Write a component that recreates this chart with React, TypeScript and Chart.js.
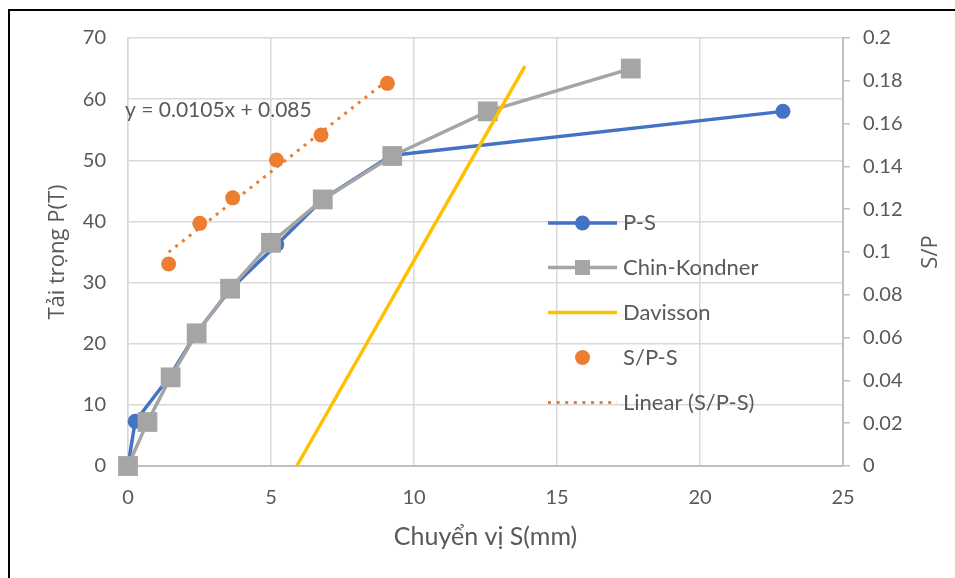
import React, { useEffect, useRef } from "react";
import { Chart, registerables } from "chart.js";

Chart.register(...registerables);

// P-S curve
const psX = [0, 0.25, 1.45, 2.4, 3.6, 5.2, 6.8, 9.2, 22.9];
const psY = [0, 7.3, 14.6, 21.8, 29.0, 36.2, 43.6, 50.8, 58.0];
// Chin-Kondner
const ckX = [0, 0.68, 1.49, 2.4, 3.57, 5.0, 6.81, 9.24, 12.58, 17.58];
const ckY = [0, 7.2, 14.5, 21.7, 29.0, 36.5, 43.6, 50.7, 58.0, 65.0];
// Davisson
const davX = [5.9, 13.88];
const davY = [0, 65.4];
// S/P - S (right axis)
const spX = [1.42, 2.51, 3.66, 5.19, 6.75, 9.07];
const spY = [0.0944, 0.1134, 0.1253, 0.143, 0.1547, 0.1788];
// Linear trendline y = 0.0105x + 0.085
const trendSlope = 0.0105;
const trendIntercept = 0.085;
const trendX = [spX[0], spX[spX.length - 1]];

const xTicks = [0, 5, 10, 15, 20, 25];
const yTicks = [0, 10, 20, 30, 40, 50, 60, 70];
const y1Ticks = [0, 0.02, 0.04, 0.06, 0.08, 0.1, 0.12, 0.14, 0.16, 0.18, 0.2];

const legendLabels = ["P-S", "Chin-Kondner", "Davisson", "S/P-S", "Linear (S/P-S)"];

const BLUE = "#4472C4";
const GRAY = "#A5A5A5";
const YELLOW = "#FFC000";
const ORANGE = "#ED7D31";
const TEXT = "#595959";
const GRID = "#D9D9D9";
const AXIS = "#BFBFBF";
const TICK_FONT = "Lato";
const TITLE_FONT = "'Open Sans'";

const pts = (xs: number[], ys: number[]) => xs.map((x, i) => ({ x, y: ys[i] }));

const overlayPlugin = {
  id: "overlay",
  afterDraw(chart: any) {
    const ctx = chart.ctx;
    ctx.save();
    // Equation label
    ctx.fillStyle = TEXT;
    ctx.font = `21px ${TICK_FONT}`;
    ctx.textAlign = "left";
    ctx.textBaseline = "middle";
    ctx.fillText(`y = ${trendSlope}x + ${trendIntercept}`, 125, 110);

    // Right axis title
    ctx.save();
    ctx.translate(931, 252);
    ctx.rotate(-Math.PI / 2);
    ctx.font = `22px ${TITLE_FONT}`;
    ctx.textAlign = "center";
    ctx.textBaseline = "middle";
    ctx.fillStyle = TEXT;
    ctx.fillText("S/P", 0, 0);
    ctx.restore();

    // Legend
    const rows = [223, 267.5, 312.5, 357.5, 402.5];
    const x0 = 548, x1 = 617, xm = 582.5, xt = 623;
    ctx.lineCap = "butt";
    // P-S
    ctx.strokeStyle = BLUE; ctx.lineWidth = 3.5;
    ctx.beginPath(); ctx.moveTo(x0, rows[0]); ctx.lineTo(x1, rows[0]); ctx.stroke();
    ctx.fillStyle = BLUE; ctx.beginPath(); ctx.arc(xm, rows[0], 7.5, 0, Math.PI * 2); ctx.fill();
    // Chin
    ctx.strokeStyle = GRAY;
    ctx.beginPath(); ctx.moveTo(x0, rows[1]); ctx.lineTo(x1, rows[1]); ctx.stroke();
    ctx.fillStyle = GRAY; ctx.fillRect(xm - 7.5, rows[1] - 7.5, 15, 15);
    // Davisson
    ctx.strokeStyle = YELLOW;
    ctx.beginPath(); ctx.moveTo(x0, rows[2]); ctx.lineTo(x1, rows[2]); ctx.stroke();
    // S/P-S
    ctx.fillStyle = ORANGE; ctx.beginPath(); ctx.arc(xm, rows[3], 7.5, 0, Math.PI * 2); ctx.fill();
    // Linear
    ctx.strokeStyle = ORANGE; ctx.lineWidth = 3; ctx.setLineDash([3, 5.6]);
    ctx.beginPath(); ctx.moveTo(x0, rows[4]); ctx.lineTo(x1, rows[4]); ctx.stroke();
    ctx.setLineDash([]);

    ctx.fillStyle = TEXT;
    ctx.font = `22px ${TICK_FONT}`;
    ctx.textAlign = "left";
    ctx.textBaseline = "middle";
    legendLabels.forEach((l, i) => ctx.fillText(l, xt, rows[i]));
    ctx.restore();
  },
};

export default function App() {
  const ref = useRef<HTMLCanvasElement | null>(null);
  useEffect(() => {
    if (!ref.current) return;
    const chart = new Chart(ref.current, {
      type: "scatter",
      data: {
        datasets: [
          {
            label: legendLabels[0],
            data: pts(psX, psY),
            showLine: true,
            borderColor: BLUE,
            backgroundColor: BLUE,
            borderWidth: 3.5,
            pointRadius: 7.5,
            pointBorderWidth: 0,
            pointStyle: "circle",
            yAxisID: "y",
            order: 5,
            clip: false,
          },
          {
            label: legendLabels[1],
            data: pts(ckX, ckY),
            showLine: true,
            borderColor: GRAY,
            backgroundColor: GRAY,
            borderWidth: 3.5,
            pointRadius: 14,
            pointBorderWidth: 0,
            pointStyle: "rect",
            yAxisID: "y",
            order: 4,
            clip: false,
          },
          {
            label: legendLabels[2],
            data: pts(davX, davY),
            showLine: true,
            borderColor: YELLOW,
            backgroundColor: YELLOW,
            borderWidth: 3.5,
            pointRadius: 0,
            yAxisID: "y",
            order: 3,
            clip: false,
          },
          {
            label: legendLabels[4],
            data: trendX.map((x) => ({ x, y: trendSlope * x + trendIntercept })),
            showLine: true,
            borderColor: ORANGE,
            borderWidth: 3,
            borderDash: [3, 5.6],
            pointRadius: 0,
            yAxisID: "y1",
            order: 2,
            clip: false,
          },
          {
            label: legendLabels[3],
            data: pts(spX, spY),
            showLine: false,
            backgroundColor: ORANGE,
            borderColor: ORANGE,
            pointRadius: 7.5,
            pointBorderWidth: 0,
            yAxisID: "y1",
            order: 1,
            clip: false,
          },
        ],
      },
      options: {
        animation: false,
        responsive: false,
        maintainAspectRatio: false,
        layout: { padding: { left: 0, right: 0, top: 38, bottom: 0 } },
        plugins: { legend: { display: false }, tooltip: { enabled: false } },
        scales: {
          x: {
            type: "linear",
            min: 0,
            max: 25,
            afterBuildTicks: (s: any) => { s.ticks = xTicks.map((v) => ({ value: v })); },
            afterFit: (s: any) => { s.height = 112; },
            grid: { color: GRID, lineWidth: 1.5, drawTicks: false },
            border: { display: true, color: AXIS, width: 2 },
            ticks: { color: TEXT, font: { family: TICK_FONT, size: 20 }, padding: 20, maxRotation: 0 },
            title: {
              display: true,
              text: "Chuyển vị S(mm)",
              color: TEXT,
              font: { family: TICK_FONT, size: 25 },
              padding: { top: 0, bottom: 26 },
            },
          },
          y: {
            type: "linear",
            position: "left",
            min: 0,
            max: 70,
            afterBuildTicks: (s: any) => { s.ticks = yTicks.map((v) => ({ value: v })); },
            afterFit: (s: any) => { s.width = 128; },
            grid: { color: GRID, lineWidth: 1.5, drawTicks: false },
            border: { display: true, color: GRID, width: 1.5 },
            ticks: { color: TEXT, font: { family: TICK_FONT, size: 20 }, padding: 22 },
            title: {
              display: true,
              text: "Tải trọng P(T)",
              color: TEXT,
              font: { family: TITLE_FONT, size: 22 },
              padding: { top: 45, bottom: 0 },
            },
          },
          y1: {
            type: "linear",
            position: "right",
            min: 0,
            max: 0.2,
            afterBuildTicks: (s: any) => { s.ticks = y1Ticks.map((v) => ({ value: v })); },
            afterFit: (s: any) => { s.width = 112; },
            grid: { drawOnChartArea: false, drawTicks: true, tickLength: 7, color: AXIS, lineWidth: 1.5 },
            border: { display: true, color: AXIS, width: 2 },
            ticks: {
              color: TEXT,
              font: { family: TICK_FONT, size: 20 },
              padding: 13,
              callback: (v: any) => String(Number(Number(v).toFixed(2))),
            },
          },
        },
      },
      plugins: [overlayPlugin],
    } as any);
    return () => chart.destroy();
  }, []);

  return (
    <div style={{ position: "fixed", left: 0, top: 0, width: 955, height: 578, overflow: "hidden", background: "#fff" }}>
      <div
        style={{
          position: "absolute",
          left: 8,
          top: 9,
          width: 960,
          height: 580,
          borderLeft: "2.5px solid #000",
          borderTop: "2.5px solid #000",
          boxSizing: "border-box",
        }}
      />
      <canvas ref={ref} width={955} height={578} style={{ position: "absolute", left: 0, top: 0, width: 955, height: 578 }} />
    </div>
  );
}
